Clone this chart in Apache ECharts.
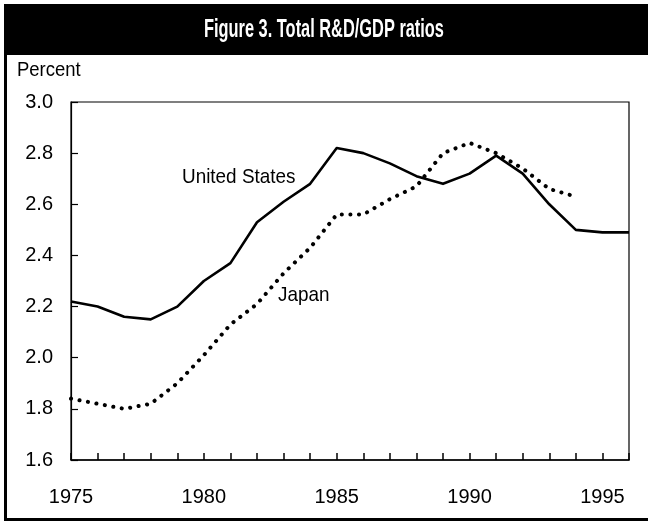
<!DOCTYPE html>
<html>
<head>
<meta charset="utf-8">
<script src="https://cdn.jsdelivr.net/npm/echarts@6/dist/echarts.min.js"></script>
<style>
  html, body { margin: 0; padding: 0; background: #fff; }
  #chart { width: 648px; height: 525px; }
</style>
</head>
<body>
<div id="chart"></div>
<script>
const years = [1975, 1976, 1977, 1978, 1979, 1980, 1981, 1982, 1983, 1984, 1985,
    1986, 1987, 1988, 1989, 1990, 1991, 1992, 1993, 1994, 1995, 1996];

// R&D/GDP ratios, percent
const usValues = [2.22, 2.20, 2.16, 2.15, 2.20, 2.30, 2.37, 2.53, 2.61, 2.68, 2.82,
    2.80, 2.76, 2.71, 2.68, 2.72, 2.79, 2.72, 2.60, 2.50, 2.49, 2.49];
const japanValues = [1.84, 1.82, 1.80, 1.82, 1.90, 2.01, 2.13, 2.21, 2.33, 2.43, 2.56,
    2.56, 2.62, 2.67, 2.80, 2.84, 2.80, 2.74, 2.66, 2.63];

const yTicks = [1.6, 1.8, 2.0, 2.2, 2.4, 2.6, 2.8, 3.0];
const xLabelYears = [1975, 1980, 1985, 1990, 1995];

const FONT = "'Liberation Sans', Arial, sans-serif";

const chart = echarts.init(document.getElementById('chart'));

chart.setOption({
    animation: false,
    backgroundColor: '#fff',
    grid: {
        left: 71, top: 102, right: 19, bottom: 65,
        show: true, borderColor: '#000', borderWidth: 1.2
    },
    xAxis: {
        type: 'value',
        min: years[0],
        max: years[years.length - 1],
        interval: 1,
        splitLine: { show: false },
        axisLine: { lineStyle: { color: '#000', width: 1.5 } },
        axisTick: { inside: true, length: 7, lineStyle: { color: '#000', width: 1.5 } },
        axisLabel: {
            color: '#000', fontFamily: FONT, fontSize: 20, margin: 27,
            formatter: v => xLabelYears.includes(v) ? String(v) : ''
        }
    },
    yAxis: {
        type: 'value',
        min: yTicks[0],
        max: yTicks[yTicks.length - 1],
        interval: 0.2,
        splitLine: { show: false },
        axisLine: { show: true, lineStyle: { color: '#000', width: 1.2 } },
        axisTick: { inside: true, length: 7, lineStyle: { color: '#000', width: 1.2 } },
        axisLabel: {
            color: '#000', fontFamily: FONT, fontSize: 20, margin: 18,
            formatter: v => v.toFixed(1)
        }
    },
    series: [
        {
            name: 'United States',
            type: 'line',
            data: years.map((y, i) => [y, usValues[i]]),
            showSymbol: false,
            lineStyle: { color: '#000', width: 2.6, join: 'round' }
        },
        {
            name: 'Japan',
            type: 'line',
            data: japanValues.map((v, i) => [years[i], v]),
            showSymbol: false,
            lineStyle: { color: '#000', width: 4, type: [0.1, 8.5], cap: 'round' }
        }
    ],
    graphic: [
        // black header band
        { type: 'rect', z: -1, shape: { x: 4, y: 4, width: 644, height: 51 }, style: { fill: '#000' } },
        // outer frame, left and bottom
        { type: 'rect', shape: { x: 4, y: 55, width: 3, height: 466 }, style: { fill: '#000' } },
        { type: 'rect', shape: { x: 4, y: 518, width: 644, height: 3 }, style: { fill: '#000' } },
        {
            type: 'text', x: 324, y: 30, scaleX: 0.63,
            style: {
                text: 'Figure 3. Total R&D/GDP ratios', fill: '#fff',
                font: 'bold 26px ' + FONT, textAlign: 'center', textVerticalAlign: 'middle'
            }
        },
        {
            type: 'text', x: 17, y: 70, scaleX: 0.88,
            style: { text: 'Percent', fill: '#000', font: '21px ' + FONT, textVerticalAlign: 'middle' }
        },
        {
            type: 'text', x: 182, y: 177, scaleX: 0.9,
            style: { text: 'United States', fill: '#000', font: '21px ' + FONT, textVerticalAlign: 'middle' }
        },
        {
            type: 'text', x: 278, y: 295, scaleX: 0.9,
            style: { text: 'Japan', fill: '#000', font: '21px ' + FONT, textVerticalAlign: 'middle' }
        }
    ]
});
</script>
</body>
</html>
